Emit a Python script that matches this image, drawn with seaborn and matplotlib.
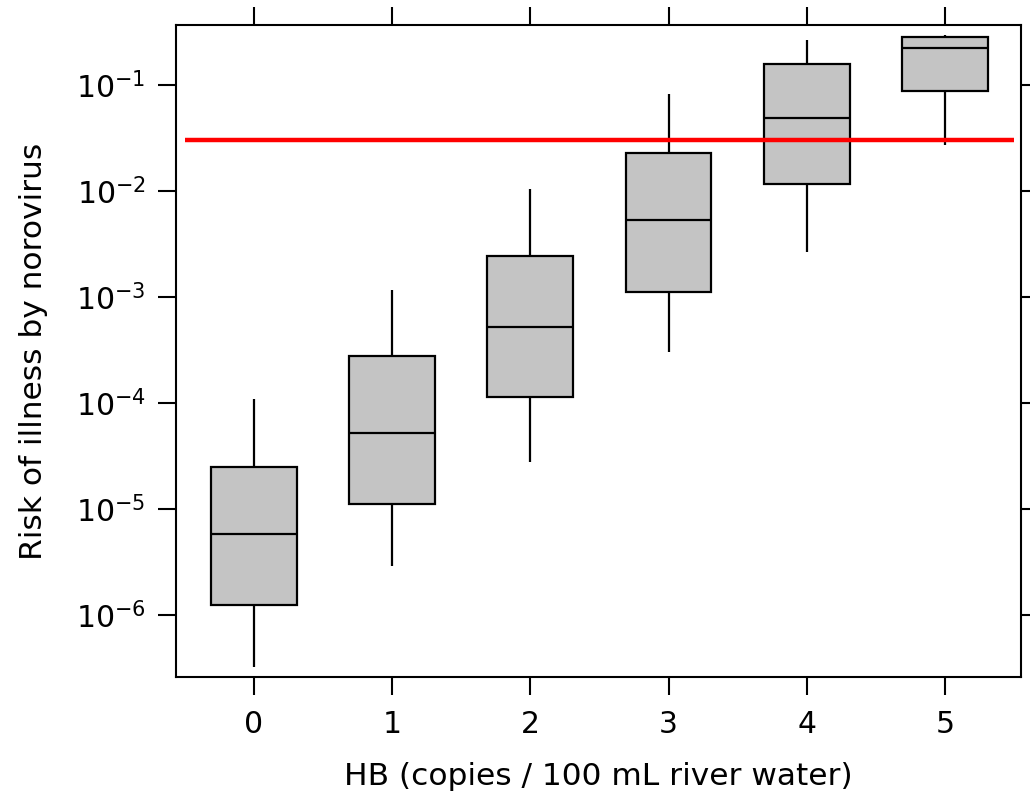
import matplotlib
matplotlib.use("Agg")
import matplotlib.pyplot as plt
from matplotlib.ticker import NullLocator
import seaborn as sns
import pandas as pd

# five-number summaries (risk of illness)
hb_levels = ["0", "1", "2", "3", "4", "5"]
whisker_low = [3.2e-7, 2.9e-6, 2.8e-5, 3.0e-4, 2.65e-3, 2.7e-2]
q1 = [1.23e-6, 1.11e-5, 1.15e-4, 1.11e-3, 1.17e-2, 8.8e-2]
median = [5.8e-6, 5.2e-5, 5.25e-4, 5.3e-3, 4.9e-2, 0.223]
q3 = [2.48e-5, 2.79e-4, 2.43e-3, 2.3e-2, 0.157, 0.282]
whisker_high = [1.08e-4, 1.16e-3, 1.05e-2, 8.2e-2, 0.265, 0.295]
threshold = 3.0e-2
decades = [1e-6, 1e-5, 1e-4, 1e-3, 1e-2, 1e-1]

rows = []
for i, lvl in enumerate(hb_levels):
    for v in (whisker_low[i], q1[i], median[i], q3[i], whisker_high[i]):
        rows.append({"HB": lvl, "risk": v})
df = pd.DataFrame(rows)

sns.set_style("ticks")
plt.rcParams["font.family"] = ["DejaVu Sans"]
plt.rcParams["axes.linewidth"] = 1.5
for k in ("text.color", "axes.labelcolor", "xtick.color", "ytick.color", "axes.edgecolor"):
    plt.rcParams[k] = "black"

fig = plt.figure(figsize=(10.3, 7.93), dpi=100)
ax = fig.add_axes([0.1709, 0.1463, 0.8204, 0.8222])

sns.boxplot(
    data=df, x="HB", y="risk", order=hb_levels,
    whis=(0, 100), showcaps=False, width=0.62,
    color="#c4c4c4", saturation=1, linecolor="black", linewidth=1.6,
    log_scale=True, ax=ax,
)

ax.hlines(threshold, -0.5, len(hb_levels) - 0.5, color="red", linewidth=3.2, zorder=5)

ax.set_xlim(-0.563, 5.55)
ax.set_ylim(2.6e-7, 0.368)
ax.set_yticks(decades)
ax.yaxis.set_minor_locator(NullLocator())

ax.tick_params(which="both", top=True, right=True, direction="out",
               length=13, width=1.5, labelsize=21.5)
ax.tick_params(axis="y", pad=9)
ax.tick_params(axis="x", pad=11)

for s in ax.spines.values():
    s.set_visible(True)
    s.set_linewidth(1.5)

ax.set_xlabel("HB (copies / 100 mL river water)", fontsize=22.5, labelpad=16)
ax.set_ylabel("Risk of illness by norovirus", fontsize=22.5, labelpad=20)

fig.savefig("out.png", dpi=100)
